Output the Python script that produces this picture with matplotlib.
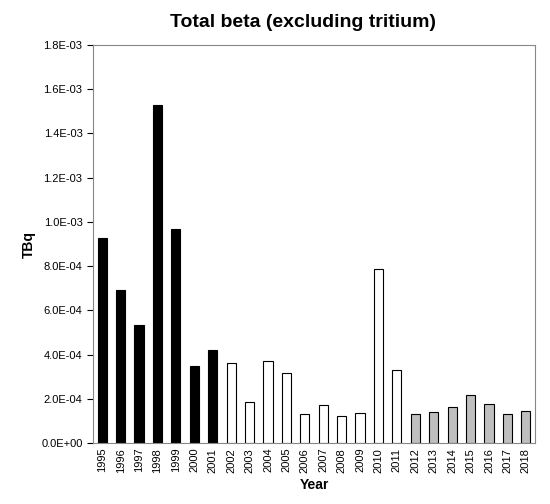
import matplotlib
matplotlib.use("Agg")
import matplotlib.pyplot as plt

years = [str(y) for y in range(1995, 2019)]
values = [9.25e-4, 6.9e-4, 5.35e-4, 1.53e-3, 9.7e-4, 3.5e-4, 4.2e-4,
          3.6e-4, 1.85e-4, 3.7e-4, 3.15e-4, 1.3e-4, 1.7e-4, 1.2e-4, 1.35e-4,
          7.85e-4, 3.3e-4,
          1.3e-4, 1.4e-4, 1.65e-4, 2.15e-4, 1.75e-4, 1.3e-4, 1.45e-4]
colors = ["black"] * 7 + ["white"] * 10 + ["#bfbfbf"] * 7
yticks = [i * 2e-4 for i in range(10)]
ytick_labels = ["0.0E+00", "2.0E-04", "4.0E-04", "6.0E-04", "8.0E-04",
                "1.0E-03", "1.2E-03", "1.4E-03", "1.6E-03", "1.8E-03"]

plt.rcParams['font.family'] = ['Liberation Sans', 'DejaVu Sans']
fig = plt.figure(figsize=(5.5, 5.04), dpi=100)
ax = fig.add_axes([93/550, 1 - 443/504, (535-93)/550, (443-45)/504])
ax.bar(range(len(years)), values, width=0.5, color=colors, edgecolor="black", linewidth=0.8)
ax.set_xlim(-0.5, len(years) - 0.5)
ax.set_ylim(0, 1.8e-3)
ax.set_yticks(yticks)
ax.set_yticklabels(ytick_labels, fontsize=8)
ax.set_xticks(range(len(years)))
ax.set_xticklabels(years, rotation=90, fontsize=8)
ax.tick_params(axis='x', length=0)
ax.tick_params(axis='y', length=4)
for s in ax.spines.values():
    s.set_color("#888888")
ax.spines['left'].set_color("#888888")
ax.set_xlabel("Year", fontsize=10, fontweight="bold")
ax.set_ylabel("TBq", fontsize=10, fontweight="bold")
fig.text(0.55, 0.955, "Total beta (excluding tritium)", ha="center", va="center",
         fontsize=14, fontweight="bold")
fig.savefig("out.png", dpi=100)
